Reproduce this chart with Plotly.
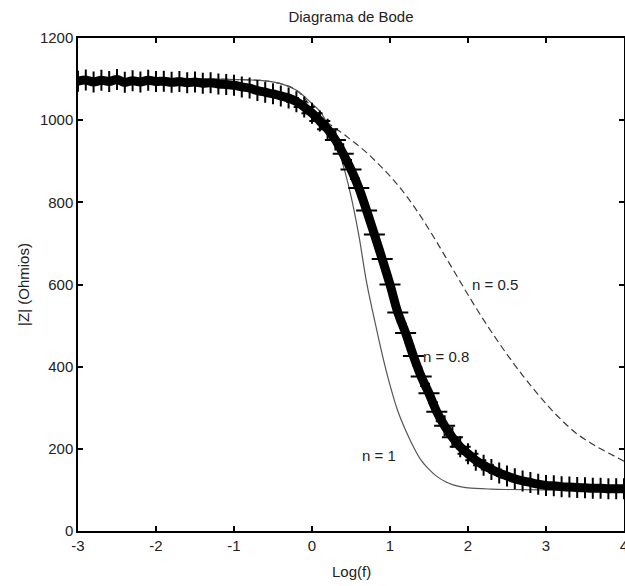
import plotly.graph_objects as go

# ---- data ----
x_n08 = [round(-3.0 + 0.1 * i, 1) for i in range(71)]
z_n08 = [1095, 1098, 1093, 1097, 1094, 1099, 1092, 1096, 1093, 1097,
         1094, 1095, 1092, 1094, 1091, 1093, 1090, 1091, 1088, 1087,
         1085, 1081, 1078, 1072, 1068, 1064, 1059, 1054, 1045, 1032,
         1017, 998, 978, 952, 918, 880, 835, 780, 722, 662,
         600, 532, 482, 426, 376, 335, 290, 256, 228, 205,
         188, 172, 160, 150, 141, 134, 127, 122, 118, 114,
         111, 110, 108, 107, 106, 105, 104, 104, 103, 103, 103]

x_n1 = [-3.0, -2.0, -1.5, -1.0, -0.5, -0.2, 0.0, 0.1, 0.2, 0.3, 0.4, 0.5, 0.6,
        0.7, 0.8, 0.9, 1.0, 1.1, 1.2, 1.3, 1.4, 1.5, 1.6, 1.7, 1.8, 1.9, 2.0,
        2.3, 2.5, 3.0, 4.0]
z_n1 = [1100, 1100, 1100, 1099, 1093, 1073, 1040, 1022, 990, 948, 890, 815, 720,
        605, 515, 430, 355, 292, 245, 205, 172, 150, 133, 121, 113, 108, 105,
        102, 101, 100, 100]

x_n05 = [-3.0, -2.0, -1.0, -0.5, -0.2, 0.0, 0.1, 0.2, 0.3, 0.4, 0.5, 0.6, 0.7,
         0.8, 0.9, 1.0, 1.1, 1.2, 1.3, 1.4, 1.5, 1.6, 1.7, 1.8, 1.9, 2.0, 2.1,
         2.2, 2.3, 2.4, 2.5, 2.6, 2.7, 2.8, 2.9, 3.0, 3.1, 3.2, 3.3, 3.4, 3.5,
         3.6, 3.7, 3.8, 3.9, 4.0]
z_n05 = [1100, 1100, 1099, 1093, 1073, 1030, 1010, 994, 980, 967, 952, 937, 921,
         903, 884, 864, 842, 818, 792, 764, 734, 703, 671, 639, 607, 575, 544,
         514, 485, 457, 430, 404, 379, 355, 332, 310, 289, 270, 252, 236, 223,
         211, 200, 190, 180, 170]

labels = ["n = 1", "n = 0.8", "n = 0.5"]
label_x = [0.86, 1.72, 2.34]
label_y = [185, 424, 599]

x_ticks = [-3, -2, -1, 0, 1, 2, 3, 4]
x_tick_text = ["-3", "-2", "-1", "0", "1", "2", "3", "4"]
y_ticks = [0, 200, 400, 600, 800, 1000, 1200]
y_tick_text = ["0", "200", "400", "600", "800", "1000", "1200"]

FONT = "Liberation Sans, Arial, sans-serif"
TXT = "#222222"
FS = 15

fig = go.Figure()
fig.add_trace(go.Scatter(x=x_n05, y=z_n05, mode="lines",
                         line=dict(color="#3a3a3a", width=1.2, dash="7px,4px",
                                   shape="spline", smoothing=1.0),
                         showlegend=False))
fig.add_trace(go.Scatter(x=x_n1, y=z_n1, mode="lines",
                         line=dict(color="#555555", width=1.2, shape="spline"),
                         showlegend=False))
fig.add_trace(go.Scatter(x=x_n08, y=z_n08, mode="lines+markers",
                         line=dict(color="black", width=9, shape="spline"),
                         marker=dict(symbol="cross-thin", size=15,
                                     line=dict(color="black", width=2)),
                         showlegend=False))

for t, lx, ly in zip(labels, label_x, label_y):
    fig.add_annotation(x=lx, y=ly, text=t, showarrow=False,
                       font=dict(family=FONT, size=FS, color=TXT))

# axis titles as paper annotations
fig.add_annotation(xref="paper", yref="paper", x=0.5, y=-0.083, yanchor="middle",
                   text="Log(f)", showarrow=False,
                   font=dict(family=FONT, size=FS, color=TXT))
fig.add_annotation(xref="paper", yref="paper", x=-0.1, xanchor="center", y=0.5,
                   text="|Z| (Ohmios)", textangle=-90, showarrow=False,
                   font=dict(family=FONT, size=FS, color=TXT))

axis_common = dict(showline=True, linecolor="black", linewidth=1.5, mirror="ticks",
                   ticks="inside", ticklen=5, tickcolor="black", tickwidth=1.5,
                   showgrid=False, zeroline=False, automargin=False,
                   ticklabeloverflow="allow",
                   tickfont=dict(family=FONT, size=FS, color=TXT))

fig.update_xaxes(range=[-3, 4], tickvals=x_ticks, ticktext=x_tick_text, **axis_common)
fig.update_yaxes(range=[0, 1200], tickvals=y_ticks, ticktext=y_tick_text, **axis_common)

fig.update_layout(
    width=625, height=586,
    margin=dict(l=78, r=1, t=38, b=55, autoexpand=False),
    paper_bgcolor="white", plot_bgcolor="white",
    title=dict(text="Diagrama de Bode", x=0.5616, xanchor="center", y=0.971,
               yanchor="middle", font=dict(family=FONT, size=FS, color=TXT)),
)

fig.write_html("out.html", config={"displayModeBar": False},
               post_script="document.body.style.margin='0';"
                           "document.body.style.overflow='hidden';")
